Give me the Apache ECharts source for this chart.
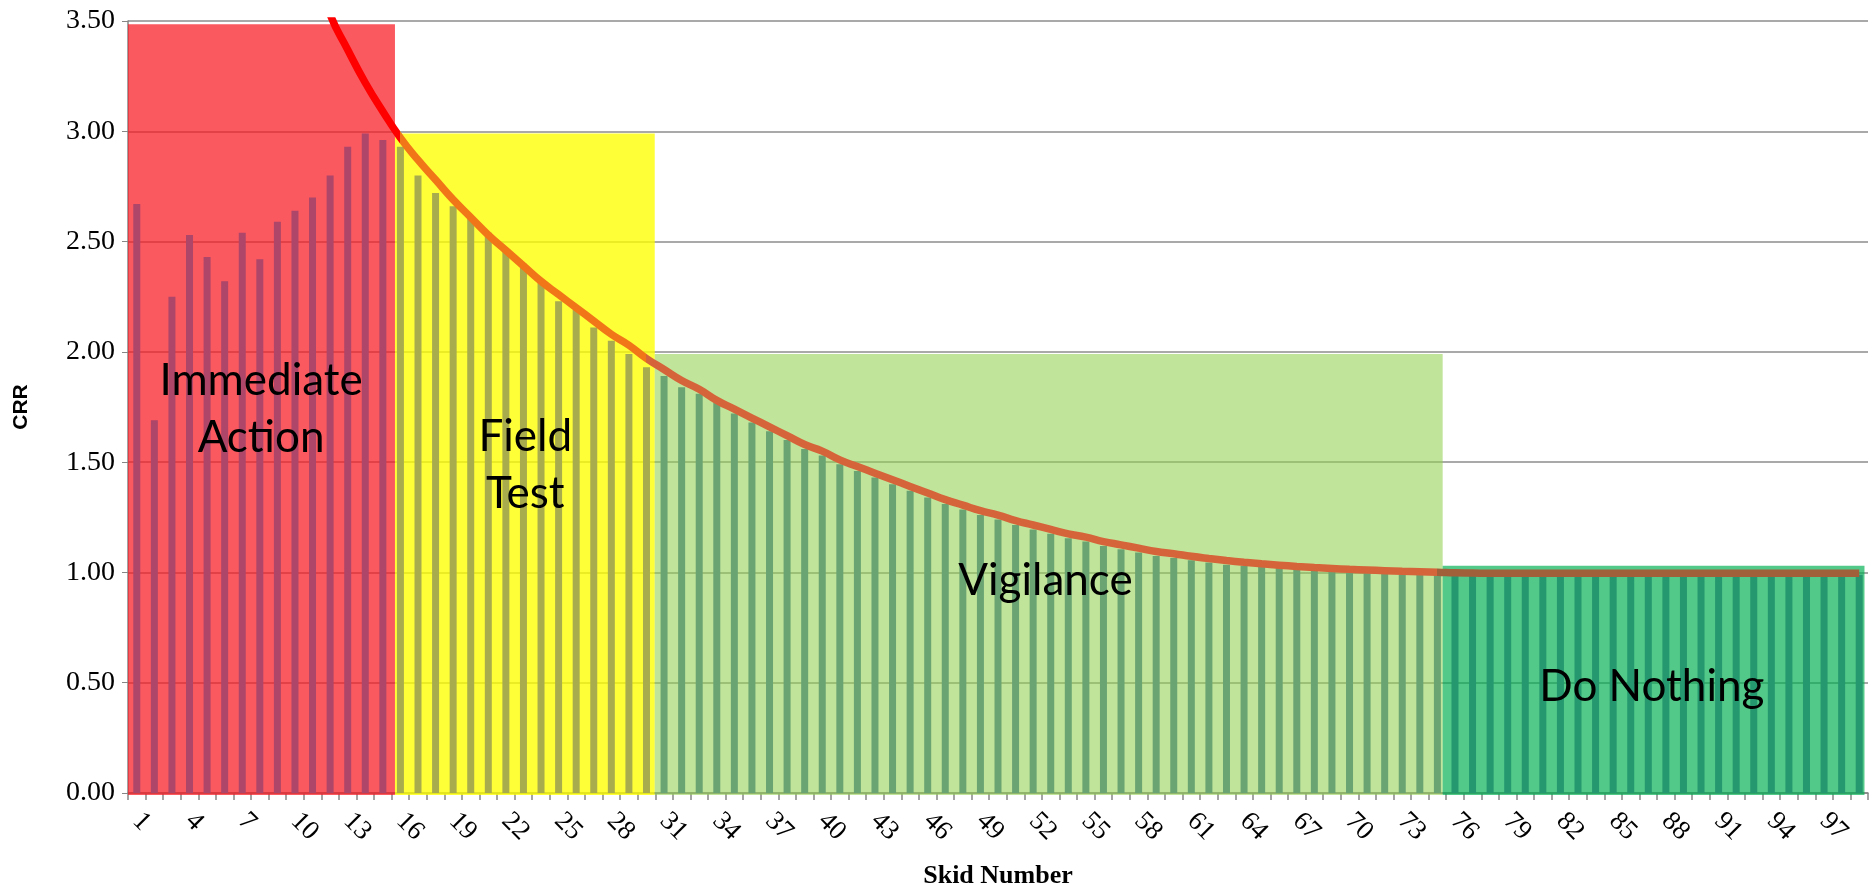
<!DOCTYPE html>
<html>
<head>
<meta charset="utf-8">
<script src="https://cdn.jsdelivr.net/npm/echarts@6/dist/echarts.min.js"></script>
<style>html,body{margin:0;padding:0;background:#fff;}#chart{width:1873px;height:885px;}</style>
</head>
<body>
<div id="chart"></div>
<script>
// ---- data ----
const skidNumbers = ['1','2','3','4','5','6','7','8','9','10','11','12','13','14','15','16','17','18','19','20',
 '21','22','23','24','25','26','27','28','29','30','31','32','33','34','35','36','37','38','39','40',
 '41','42','43','44','45','46','47','48','49','50','51','52','53','54','55','56','57','58','59','60',
 '61','62','63','64','65','66','67','68','69','70','71','72','73','74','75','76','77','78','79','80',
 '81','82','83','84','85','86','87','88','89','90','91','92','93','94','95','96','97','98','99'];

const crrValues = [2.67,1.69,2.25,2.53,2.43,2.32,2.54,2.42,2.59,2.64,2.70,2.80,2.93,2.99,2.96,
 2.93,2.80,2.72,2.66,2.61,2.54,2.46,2.40,2.32,2.23,2.19,2.11,2.05,1.99,1.93,
 1.89,1.84,1.81,1.77,1.72,1.68,1.64,1.60,1.56,1.53,1.49,1.46,1.43,1.40,1.37,
 1.34,1.31,1.285,1.26,1.24,1.215,1.195,1.175,1.155,1.14,1.12,1.105,1.09,1.075,1.065,
 1.055,1.045,1.035,1.03,1.025,1.02,1.015,1.01,1.005,1.0,1.0,0.995,0.995,0.995,0.99,
 0.99,0.99,0.99,0.99,0.99,0.99,0.99,0.99,0.99,0.99,0.99,0.99,0.99,0.99,0.99,
 0.99,0.99,0.99,0.99,0.99,0.99,0.99,0.99,0.99];

const trendValues = [null,null,null,null,null,null,null,null,null,null,3.78,3.53,3.37,3.22,3.09,
 2.97,2.87,2.78,2.69,2.61,2.53,2.46,2.39,2.32,2.26,2.20,2.14,2.08,2.03,1.97,
 1.92,1.87,1.83,1.78,1.74,1.70,1.66,1.62,1.58,1.55,1.51,1.48,1.45,1.42,1.39,
 1.36,1.33,1.305,1.28,1.26,1.235,1.215,1.195,1.175,1.16,1.14,1.125,1.11,1.095,1.085,
 1.073,1.063,1.054,1.046,1.039,1.033,1.027,1.022,1.018,1.014,1.011,1.008,1.005,1.003,1.001,
 0.998,0.997,0.996,0.996,0.996,0.996,0.996,0.996,0.996,0.996,0.996,0.996,0.996,0.996,0.996,
 0.996,0.996,0.996,0.996,0.996,0.996,0.996,0.996,0.996];

const yTicks = [0, 0.5, 1, 1.5, 2, 2.5, 3, 3.5];

// zones (x in category-width units from left of plot)
const zoneNames  = ['Immediate Action', 'Field Test', 'Vigilance', 'Do Nothing'];
const zoneStart  = [0, 15.19, 29.97, 74.8];
const zoneEnd    = [15.19, 29.97, 74.8, 98.8];
const zoneTop    = [3.485, 2.99, 1.99, 1.03];
const zoneLabels = ['Immediate\nAction', 'Field\nTest', 'Vigilance', 'Do Nothing'];
const labelX     = [7.57, 22.6, 52.2, 86.7];
const labelY     = [1.74, 1.485, 0.96, 0.48];

// ---- styles ----
const zoneFill  = ['rgba(250,25,35,0.72)', 'rgba(255,255,0,0.78)', 'rgba(146,208,80,0.58)', 'rgba(0,176,80,0.68)'];
const barColors = ['#ad4668', '#a9ac4c', '#6aa473', '#25986f'];
const lineColors = ['#ff0000', '#f07618', '#d6643a', '#a0603a'];

function zoneOfIndex(i) {
  const v = i + 0.5;
  for (let z = 0; z < zoneEnd.length; z++) if (v < zoneEnd[z]) return z;
  return zoneEnd.length - 1;
}

const zoneData = zoneStart.map((s, i) => [s, zoneEnd[i], zoneTop[i]]);
const textData = labelX.map((x, i) => [x, labelY[i]]);

const chart = echarts.init(document.getElementById('chart'), null, {renderer: 'canvas'});

const option = {
  backgroundColor: '#ffffff',
  animation: false,
  grid: {left: 128, right: 5, top: 21, bottom: 92, containLabel: false, outerBoundsMode: 'none'},
  xAxis: [{
    type: 'category',
    data: skidNumbers,
    boundaryGap: true,
    name: 'Skid Number',
    nameLocation: 'middle',
    nameGap: 70,
    nameTextStyle: {fontFamily: 'Liberation Serif', fontWeight: 'bold', fontSize: 26, color: '#000'},
    axisLine: {show: true, lineStyle: {color: '#868686', width: 1.5}},
    axisTick: {show: true, interval: 0, length: 7, lineStyle: {color: '#868686', width: 1.5}},
    axisLabel: {interval: 2, rotate: -45, margin: 24, fontFamily: 'Liberation Serif', fontSize: 27, color: '#000'},
    splitLine: {show: false}
  }, {
    type: 'value', min: 0, max: 99, show: false
  }],
  yAxis: {
    type: 'value', min: 0, max: 3.5, interval: 0.5,
    name: 'CRR',
    nameLocation: 'middle',
    nameRotate: 90,
    nameGap: 96,
    nameTextStyle: {fontFamily: "'Liberation Sans Narrow', 'Liberation Sans'", fontWeight: 'bold', fontSize: 21, color: '#000'},
    axisLine: {show: true, lineStyle: {color: '#868686', width: 1.5}},
    axisTick: {show: true, length: 6, lineStyle: {color: '#868686'}},
    axisLabel: {margin: 13, fontFamily: 'Liberation Serif', fontSize: 28, color: '#000',
      formatter: v => (yTicks.indexOf(v) >= 0 ? v.toFixed(2) : '')},
    splitLine: {show: true, lineStyle: {color: '#8c8c8c', width: 1.5}}
  },
  visualMap: {
    show: false,
    type: 'piecewise',
    seriesIndex: 2,
    dimension: 0,
    pieces: [
      {lt: 15.28, color: lineColors[0]},
      {gte: 15.28, lt: 29.47, color: lineColors[1]},
      {gte: 29.47, lt: 74.3, color: lineColors[2]},
      {gte: 74.3, color: lineColors[3]}
    ]
  },
  series: [{
    type: 'custom',
    name: 'zones',
    xAxisIndex: 1,
    yAxisIndex: 0,
    z: 1,
    silent: true,
    data: zoneData,
    encode: {x: [0, 1], y: 2},
    renderItem: function (params, api) {
      const p0 = api.coord([api.value(0), api.value(2)]);
      const p1 = api.coord([api.value(1), 0]);
      return {
        type: 'rect',
        shape: {x: p0[0], y: p0[1], width: p1[0] - p0[0], height: p1[1] - p0[1] + 2},
        style: {fill: zoneFill[params.dataIndex]}
      };
    }
  }, {
    type: 'bar',
    name: 'CRR',
    xAxisIndex: 0,
    z: 2,
    barWidth: 7,
    data: crrValues,
    itemStyle: {color: p => barColors[zoneOfIndex(p.dataIndex)]}
  }, {
    type: 'line',
    name: 'Trend',
    xAxisIndex: 0,
    z: 3,
    data: trendValues,
    smooth: true,
    symbol: 'none',
    lineStyle: {width: 7.5},
    clip: true
  }, {
    type: 'custom',
    name: 'labels',
    xAxisIndex: 1,
    yAxisIndex: 0,
    z: 5,
    silent: true,
    data: textData,
    renderItem: function (params, api) {
      const p = api.coord([api.value(0), api.value(1)]);
      return {
        type: 'text',
        x: p[0], y: p[1],
        style: {
          text: zoneLabels[params.dataIndex],
          font: '44px Lato, "Open Sans", sans-serif',
          fill: '#000',
          textAlign: 'center',
          textVerticalAlign: 'middle',
          lineHeight: 57
        }
      };
    }
  }]
};
chart.setOption(option);
</script>
</body>
</html>
